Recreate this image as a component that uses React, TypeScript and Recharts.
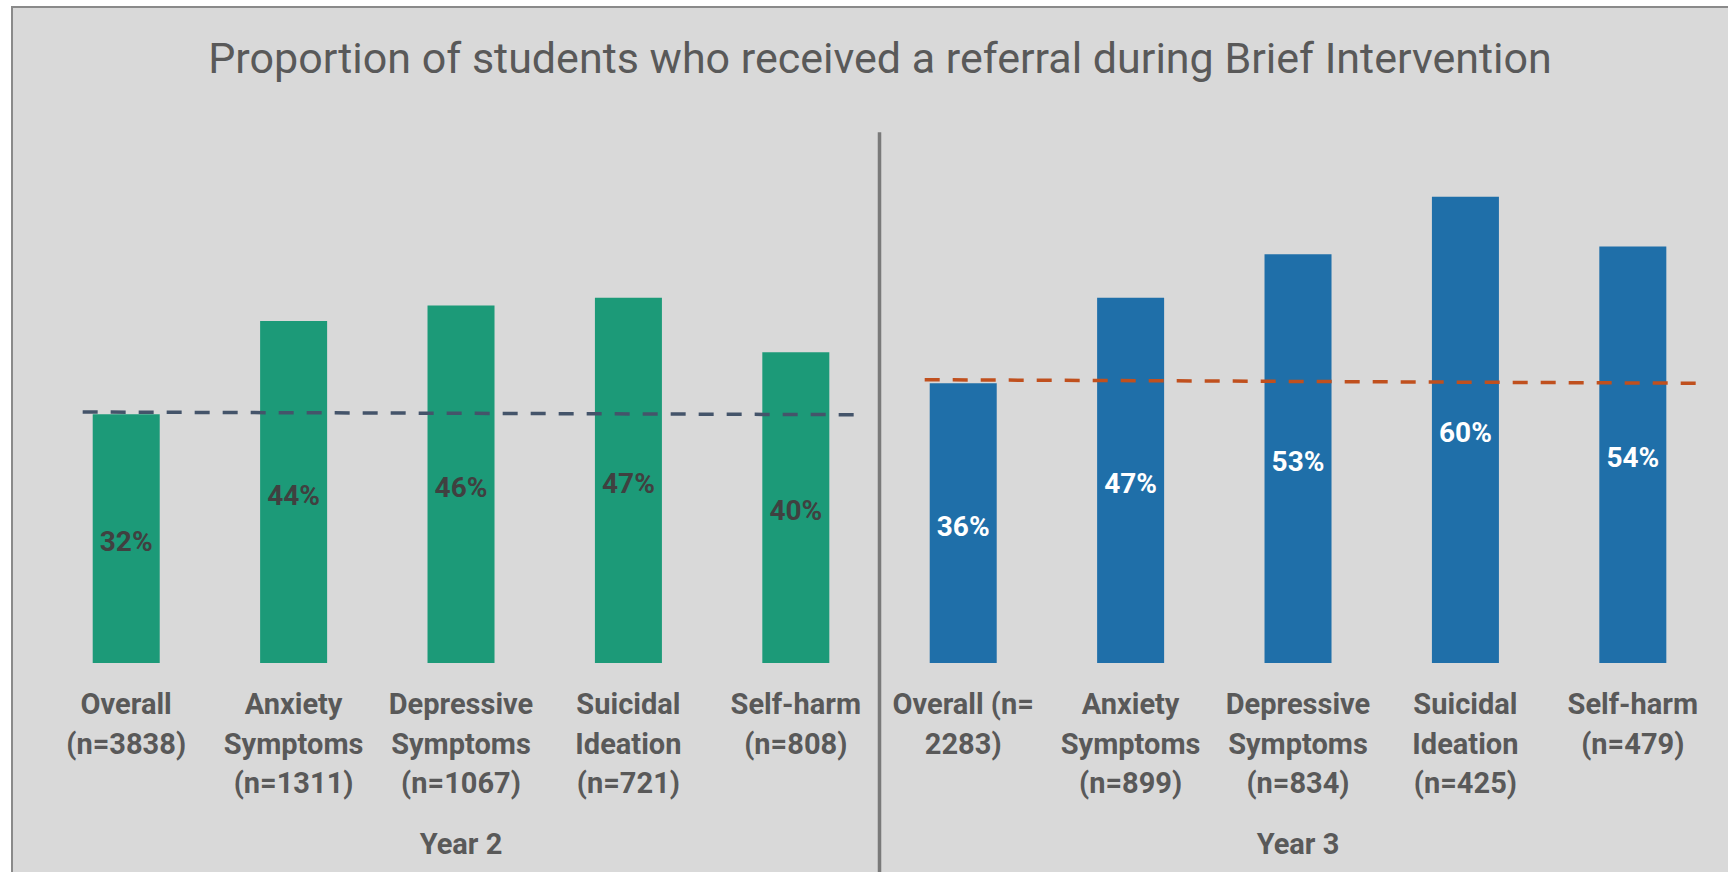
import React from "react";
import { ComposedChart, Bar, Cell, XAxis, YAxis, LabelList, ReferenceLine } from "recharts";

const title = "Proportion of students who received a referral during Brief Intervention";
const groupLabels = ["Year 2", "Year 3"];
const categoriesY2 = [
  "Overall\n(n=3838)",
  "Anxiety\nSymptoms\n(n=1311)",
  "Depressive\nSymptoms\n(n=1067)",
  "Suicidal\nIdeation\n(n=721)",
  "Self-harm\n(n=808)",
];
const valuesY2 = [32, 44, 46, 47, 40];
const categoriesY3 = [
  "Overall (n=\n2283)",
  "Anxiety\nSymptoms\n(n=899)",
  "Depressive\nSymptoms\n(n=834)",
  "Suicidal\nIdeation\n(n=425)",
  "Self-harm\n(n=479)",
];
const valuesY3 = [36, 47, 52.6, 60, 53.6];
// dashed "overall" reference lines: [x in category units, y in %]
const overallLineY2 = [
  { x: 0.24, y: 32.3 },
  { x: 4.85, y: 31.95 },
];
const overallLineY3 = [
  { x: 5.27, y: 36.45 },
  { x: 9.89, y: 36.0 },
];
const dividerAt = 5;
const dividerSpan = [68.3, -27];

const groupColors = ["#1c9a78", "#1f6fa9"];
const labelColors = ["#404040", "#ffffff"];
const lineColors = ["#44546a", "#c0501e"];

const data = [
  ...categoriesY2.map((name, i) => ({ name, value: valuesY2[i], group: 0 })),
  ...categoriesY3.map((name, i) => ({ name, value: valuesY3[i], group: 1 })),
].map((d, i) => ({ ...d, pos: i + 0.5 }));
const groupSize = categoriesY2.length;

const FONT = "Roboto, 'Open Sans', sans-serif";

const renderTick = (props: any) => {
  const { x, y, payload, index } = props;
  const lines = String(payload.value).split("\n");
  const idx = typeof index === "number" ? index : payload.index;
  const showGroup = idx % groupSize === Math.floor(groupSize / 2);
  return (
    <g>
      <text
        x={x}
        y={y}
        textAnchor="middle"
        fill="#595959"
        fontFamily={FONT}
        fontWeight={700}
        fontSize={29}
      >
        {lines.map((l, i) => (
          <tspan key={i} x={x} y={y + 51 + i * 39.6}>
            {l}
          </tspan>
        ))}
      </text>
      {showGroup && (
        <text
          x={x}
          y={y + 191}
          textAnchor="middle"
          fill="#595959"
          fontFamily={FONT}
          fontWeight={700}
          fontSize={29}
        >
          {groupLabels[Math.floor(idx / groupSize)]}
        </text>
      )}
    </g>
  );
};

const renderLabel = (props: any) => {
  const { x, y, width, height, value, index } = props;
  const g = data[index].group;
  return (
    <text
      x={x + width / 2}
      y={y + height / 2 + 12.5}
      textAnchor="middle"
      fill={labelColors[g]}
      fontFamily={FONT}
      fontWeight={700}
      fontSize={28}
    >
      {`${Math.round(value)}%`}
    </text>
  );
};

export default function App() {
  return (
    <div style={{ position: "absolute", left: 0, top: 0, width: 1728, height: 872, overflow: "hidden" }}>
      <div
        style={{
          position: "absolute",
          left: 11,
          top: 6,
          width: 1717,
          height: 866,
          background: "#d9d9d9",
          borderLeft: "2px solid #8a8a8a",
          borderTop: "2px solid #8a8a8a",
          boxSizing: "border-box",
        }}
      />
      <div
        style={{
          position: "absolute",
          left: 100,
          top: 37,
          width: 1560,
          textAlign: "center",
          fontFamily: FONT,
          fontSize: 43,
          lineHeight: "43px",
          color: "#595959",
          whiteSpace: "nowrap",
        }}
      >
        {title}
      </div>
      <div style={{ position: "absolute", left: 0, top: 0 }}>
        <ComposedChart
          width={1728}
          height={872}
          data={data}
          margin={{ top: 119, right: 11.5, left: 42.5, bottom: 0 }}
          barCategoryGap="30%"
        >
          <XAxis
            dataKey="name"
            interval={0}
            height={209}
            tickLine={false}
            axisLine={false}
            tickSize={0}
            tickMargin={0}
            tick={renderTick}
          />
          <XAxis xAxisId="n" dataKey="pos" type="number" domain={[0, 10]} allowDataOverflow hide />
          <YAxis hide domain={[0, 70]} allowDataOverflow />
          <Bar dataKey="value" isAnimationActive={false}>
            {data.map((d, i) => (
              <Cell key={i} fill={groupColors[d.group]} />
            ))}
            <LabelList dataKey="value" content={renderLabel} />
          </Bar>
          <ReferenceLine
            xAxisId="n"
            segment={[
              { x: dividerAt, y: dividerSpan[0] },
              { x: dividerAt, y: dividerSpan[1] },
            ]}
            stroke="#7a7a7a"
            strokeWidth={3.5}
            ifOverflow="visible"
          />
          <ReferenceLine
            xAxisId="n"
            segment={overallLineY2}
            stroke={lineColors[0]}
            strokeWidth={3.5}
            strokeDasharray="15 13"
            ifOverflow="visible"
          />
          <ReferenceLine
            xAxisId="n"
            segment={overallLineY3}
            stroke={lineColors[1]}
            strokeWidth={3.5}
            strokeDasharray="15 13"
            ifOverflow="visible"
          />
        </ComposedChart>
      </div>
    </div>
  );
}
